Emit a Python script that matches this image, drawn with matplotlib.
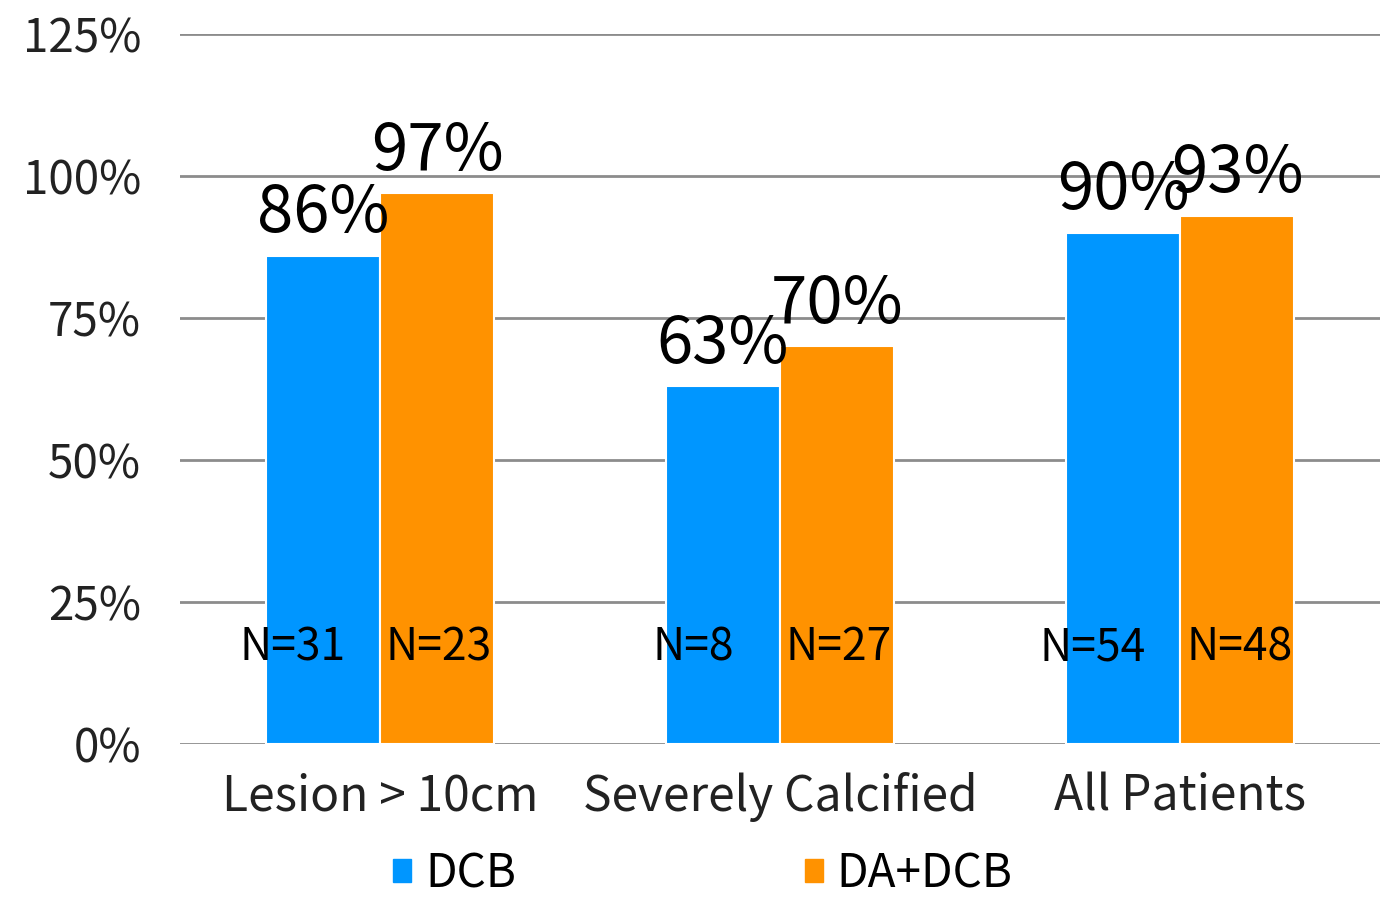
import numpy as np
import matplotlib.pyplot as plt
from matplotlib.patches import Patch

plt.rcParams['font.family'] = ['Noto Sans CJK KR', 'DejaVu Sans']

categories = ['Lesion > 10cm', 'Severely Calcified', 'All Patients']
series = ['DCB', 'DA+DCB']
dcb = [86, 63, 90]
da_dcb = [97, 70, 93]
n_dcb = [31, 8, 54]
n_da_dcb = [23, 27, 48]
colors = ['#0096FF', '#FF9200']

fig = plt.figure(figsize=(13.89, 8.98), dpi=100)
ax = fig.add_axes([0.1296, 0.1715, 0.8640, 0.7906])

x = np.arange(len(categories))
w = 0.285
b1 = ax.bar(x - w / 2, dcb, w, color=colors[0], edgecolor='white', linewidth=1.5, zorder=3)
b2 = ax.bar(x + w / 2, da_dcb, w, color=colors[1], edgecolor='white', linewidth=1.5, zorder=3)

# percent labels above bars
for bars, vals in ((b1, dcb), (b2, da_dcb)):
    for r, v in zip(bars, vals):
        ax.annotate(f'{v}%', (r.get_x() + r.get_width() / 2, v),
                    xytext=(0, 6), textcoords='offset points',
                    ha='center', va='bottom', fontsize=47, zorder=4)

# sample sizes inside bars
for i in range(len(categories)):
    ax.text(x[i] - w / 2 - 0.075, 17, f'N={n_dcb[i]}', ha='center', va='center',
            fontsize=32, zorder=4)
    ax.text(x[i] + w / 2 + 0.005, 17, f'N={n_da_dcb[i]}', ha='center', va='center',
            fontsize=32, zorder=4)

ax.set_xlim(-0.5, 2.5)
ax.set_ylim(0, 125)
ax.set_yticks([0, 25, 50, 75, 100, 125])
ax.set_yticklabels([f'{t}%' for t in [0, 25, 50, 75, 100, 125]], fontsize=33)
ax.set_xticks(x)
ax.set_xticklabels(categories, fontsize=34.5)
ax.tick_params(axis='both', length=0, colors='#222222')
ax.tick_params(axis='y', pad=28)
ax.tick_params(axis='x', pad=20)
ax.yaxis.grid(True, color='#8c8c8c', linewidth=2, zorder=0)
for s in ax.spines.values():
    s.set_visible(False)

handles = [Patch(color=c, label=s) for c, s in zip(colors, series)]
fig.legend(handles=handles, loc='center', bbox_to_anchor=(0.5060, 0.027),
           ncol=2, frameon=False, fontsize=33, handlelength=0.4, handleheight=0.4,
           handletextpad=0.3, columnspacing=6.3)

fig.savefig('out.png', dpi=100)
